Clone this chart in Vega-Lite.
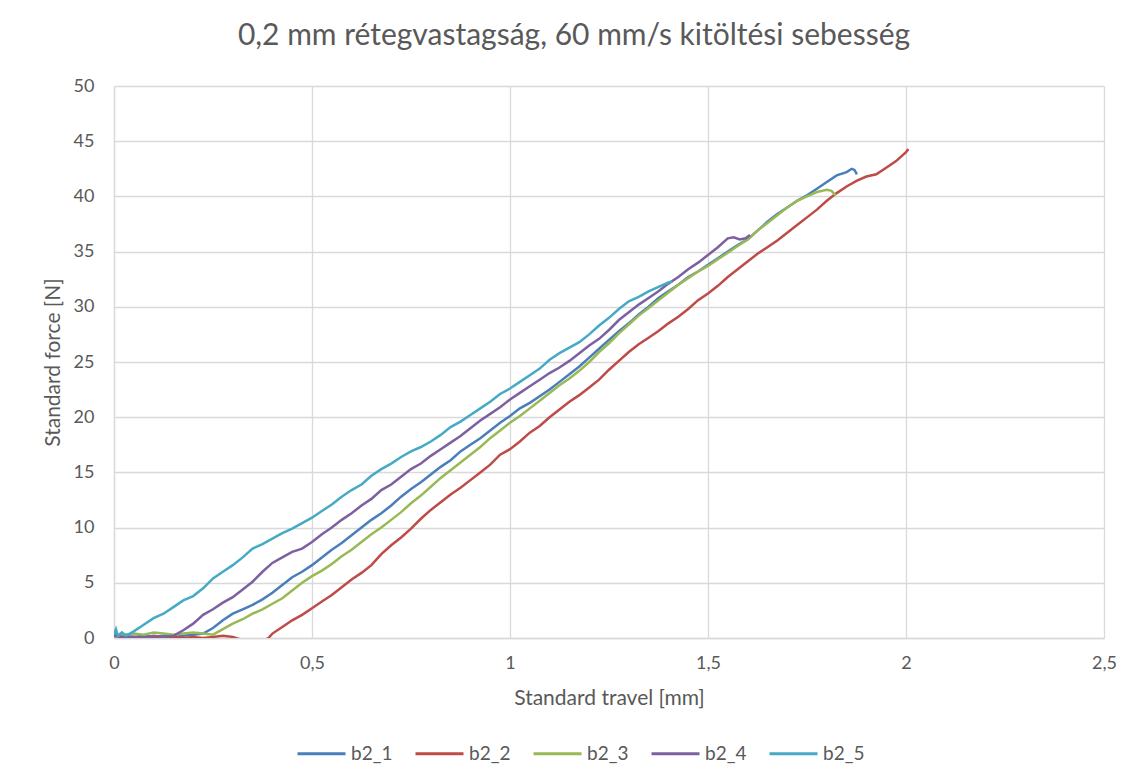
{
 "$schema": "https://vega.github.io/schema/vega-lite/v6.json",
 "width": 990,
 "height": 552,
 "autosize": {"type": "none"},
 "padding": {"left": 114, "top": 86, "right": 33, "bottom": 144},
 "background": "white",
 "title": {"text": "0,2 mm rétegvastagság, 60 mm/s kitöltési sebesség", "font": "Lato", "fontSize": 30, "fontWeight": "normal", "color": "#595959", "anchor": "middle", "dx": -35, "offset": 26},
 "data": {"values": [
  {"s":"b2_1","x":0,"y":0.7},{"s":"b2_1","x":0.008,"y":0.1},{"s":"b2_1","x":0.025,"y":0.2},{"s":"b2_1","x":0.05,"y":0.1},{"s":"b2_1","x":0.075,"y":0.2},{"s":"b2_1","x":0.1,"y":0.1},{"s":"b2_1","x":0.125,"y":0.2},{"s":"b2_1","x":0.15,"y":0.1},{"s":"b2_1","x":0.175,"y":0.2},{"s":"b2_1","x":0.2,"y":0.3},{"s":"b2_1","x":0.225,"y":0.4},{"s":"b2_1","x":0.25,"y":0.9},{"s":"b2_1","x":0.275,"y":1.6},{"s":"b2_1","x":0.3,"y":2.2},{"s":"b2_1","x":0.325,"y":2.6},{"s":"b2_1","x":0.35,"y":3.0},{"s":"b2_1","x":0.375,"y":3.5},{"s":"b2_1","x":0.4,"y":4.1},{"s":"b2_1","x":0.425,"y":4.8},{"s":"b2_1","x":0.45,"y":5.5},{"s":"b2_1","x":0.475,"y":6.0},{"s":"b2_1","x":0.5,"y":6.6},{"s":"b2_1","x":0.525,"y":7.3},{"s":"b2_1","x":0.55,"y":8.0},{"s":"b2_1","x":0.575,"y":8.6},{"s":"b2_1","x":0.6,"y":9.3},{"s":"b2_1","x":0.625,"y":10.0},{"s":"b2_1","x":0.65,"y":10.7},{"s":"b2_1","x":0.675,"y":11.3},{"s":"b2_1","x":0.7,"y":12.0},{"s":"b2_1","x":0.725,"y":12.8},{"s":"b2_1","x":0.75,"y":13.5},{"s":"b2_1","x":0.775,"y":14.1},{"s":"b2_1","x":0.8,"y":14.8},{"s":"b2_1","x":0.825,"y":15.5},{"s":"b2_1","x":0.85,"y":16.1},{"s":"b2_1","x":0.875,"y":16.9},{"s":"b2_1","x":0.9,"y":17.5},{"s":"b2_1","x":0.925,"y":18.1},{"s":"b2_1","x":0.95,"y":18.8},{"s":"b2_1","x":0.975,"y":19.5},{"s":"b2_1","x":1.0,"y":20.1},{"s":"b2_1","x":1.025,"y":20.8},{"s":"b2_1","x":1.05,"y":21.3},{"s":"b2_1","x":1.075,"y":21.9},{"s":"b2_1","x":1.1,"y":22.5},{"s":"b2_1","x":1.125,"y":23.2},{"s":"b2_1","x":1.15,"y":23.9},{"s":"b2_1","x":1.175,"y":24.6},{"s":"b2_1","x":1.2,"y":25.4},{"s":"b2_1","x":1.225,"y":26.2},{"s":"b2_1","x":1.25,"y":27.0},{"s":"b2_1","x":1.275,"y":27.8},{"s":"b2_1","x":1.3,"y":28.5},{"s":"b2_1","x":1.325,"y":29.3},{"s":"b2_1","x":1.35,"y":30.0},{"s":"b2_1","x":1.375,"y":30.8},{"s":"b2_1","x":1.4,"y":31.4},{"s":"b2_1","x":1.425,"y":32.0},{"s":"b2_1","x":1.45,"y":32.7},{"s":"b2_1","x":1.475,"y":33.2},{"s":"b2_1","x":1.5,"y":33.8},{"s":"b2_1","x":1.525,"y":34.4},{"s":"b2_1","x":1.55,"y":35.0},{"s":"b2_1","x":1.575,"y":35.6},{"s":"b2_1","x":1.6,"y":36.1},{"s":"b2_1","x":1.625,"y":36.9},{"s":"b2_1","x":1.65,"y":37.7},{"s":"b2_1","x":1.675,"y":38.4},{"s":"b2_1","x":1.7,"y":39.0},{"s":"b2_1","x":1.725,"y":39.6},{"s":"b2_1","x":1.75,"y":40.1},{"s":"b2_1","x":1.775,"y":40.7},{"s":"b2_1","x":1.8,"y":41.3},{"s":"b2_1","x":1.825,"y":41.9},{"s":"b2_1","x":1.85,"y":42.2},{"s":"b2_1","x":1.863,"y":42.5},{"s":"b2_1","x":1.87,"y":42.4},{"s":"b2_1","x":1.876,"y":42.0},

  {"s":"b2_2","x":0,"y":0.2},{"s":"b2_2","x":0.025,"y":0.0},{"s":"b2_2","x":0.05,"y":0.1},{"s":"b2_2","x":0.075,"y":0.0},{"s":"b2_2","x":0.1,"y":0.1},{"s":"b2_2","x":0.125,"y":0.0},{"s":"b2_2","x":0.15,"y":0.1},{"s":"b2_2","x":0.175,"y":0.0},{"s":"b2_2","x":0.2,"y":0.1},{"s":"b2_2","x":0.225,"y":0.0},{"s":"b2_2","x":0.25,"y":0.1},{"s":"b2_2","x":0.275,"y":0.2},{"s":"b2_2","x":0.3,"y":0.1},{"s":"b2_2","x":0.325,"y":-0.2},{"s":"b2_2","x":0.35,"y":-0.4},{"s":"b2_2","x":0.375,"y":-0.3},{"s":"b2_2","x":0.39,"y":0.0},{"s":"b2_2","x":0.4,"y":0.4},{"s":"b2_2","x":0.425,"y":1.0},{"s":"b2_2","x":0.45,"y":1.6},{"s":"b2_2","x":0.475,"y":2.1},{"s":"b2_2","x":0.5,"y":2.7},{"s":"b2_2","x":0.525,"y":3.3},{"s":"b2_2","x":0.55,"y":3.9},{"s":"b2_2","x":0.575,"y":4.6},{"s":"b2_2","x":0.6,"y":5.3},{"s":"b2_2","x":0.625,"y":5.9},{"s":"b2_2","x":0.65,"y":6.6},{"s":"b2_2","x":0.675,"y":7.6},{"s":"b2_2","x":0.7,"y":8.4},{"s":"b2_2","x":0.725,"y":9.1},{"s":"b2_2","x":0.75,"y":9.9},{"s":"b2_2","x":0.775,"y":10.8},{"s":"b2_2","x":0.8,"y":11.6},{"s":"b2_2","x":0.825,"y":12.3},{"s":"b2_2","x":0.85,"y":13.0},{"s":"b2_2","x":0.875,"y":13.6},{"s":"b2_2","x":0.9,"y":14.3},{"s":"b2_2","x":0.925,"y":15.0},{"s":"b2_2","x":0.95,"y":15.7},{"s":"b2_2","x":0.975,"y":16.6},{"s":"b2_2","x":1.0,"y":17.1},{"s":"b2_2","x":1.025,"y":17.8},{"s":"b2_2","x":1.05,"y":18.6},{"s":"b2_2","x":1.075,"y":19.2},{"s":"b2_2","x":1.1,"y":20.0},{"s":"b2_2","x":1.125,"y":20.7},{"s":"b2_2","x":1.15,"y":21.4},{"s":"b2_2","x":1.175,"y":22.0},{"s":"b2_2","x":1.2,"y":22.7},{"s":"b2_2","x":1.225,"y":23.4},{"s":"b2_2","x":1.25,"y":24.3},{"s":"b2_2","x":1.275,"y":25.1},{"s":"b2_2","x":1.3,"y":25.9},{"s":"b2_2","x":1.325,"y":26.6},{"s":"b2_2","x":1.35,"y":27.2},{"s":"b2_2","x":1.375,"y":27.8},{"s":"b2_2","x":1.4,"y":28.5},{"s":"b2_2","x":1.425,"y":29.1},{"s":"b2_2","x":1.45,"y":29.8},{"s":"b2_2","x":1.475,"y":30.6},{"s":"b2_2","x":1.5,"y":31.2},{"s":"b2_2","x":1.525,"y":31.9},{"s":"b2_2","x":1.55,"y":32.7},{"s":"b2_2","x":1.575,"y":33.4},{"s":"b2_2","x":1.6,"y":34.1},{"s":"b2_2","x":1.625,"y":34.8},{"s":"b2_2","x":1.65,"y":35.4},{"s":"b2_2","x":1.675,"y":36.0},{"s":"b2_2","x":1.7,"y":36.7},{"s":"b2_2","x":1.725,"y":37.4},{"s":"b2_2","x":1.75,"y":38.1},{"s":"b2_2","x":1.775,"y":38.8},{"s":"b2_2","x":1.8,"y":39.6},{"s":"b2_2","x":1.825,"y":40.3},{"s":"b2_2","x":1.85,"y":40.9},{"s":"b2_2","x":1.875,"y":41.4},{"s":"b2_2","x":1.9,"y":41.8},{"s":"b2_2","x":1.925,"y":42.0},{"s":"b2_2","x":1.95,"y":42.6},{"s":"b2_2","x":1.975,"y":43.2},{"s":"b2_2","x":2.0,"y":44.0},{"s":"b2_2","x":2.006,"y":44.3},

  {"s":"b2_3","x":0,"y":0.1},{"s":"b2_3","x":0.025,"y":0.3},{"s":"b2_3","x":0.05,"y":0.4},{"s":"b2_3","x":0.075,"y":0.3},{"s":"b2_3","x":0.1,"y":0.5},{"s":"b2_3","x":0.125,"y":0.4},{"s":"b2_3","x":0.15,"y":0.3},{"s":"b2_3","x":0.175,"y":0.4},{"s":"b2_3","x":0.2,"y":0.5},{"s":"b2_3","x":0.225,"y":0.4},{"s":"b2_3","x":0.25,"y":0.3},{"s":"b2_3","x":0.275,"y":0.8},{"s":"b2_3","x":0.3,"y":1.3},{"s":"b2_3","x":0.325,"y":1.7},{"s":"b2_3","x":0.35,"y":2.2},{"s":"b2_3","x":0.375,"y":2.6},{"s":"b2_3","x":0.4,"y":3.1},{"s":"b2_3","x":0.425,"y":3.6},{"s":"b2_3","x":0.45,"y":4.3},{"s":"b2_3","x":0.475,"y":5.0},{"s":"b2_3","x":0.5,"y":5.6},{"s":"b2_3","x":0.525,"y":6.1},{"s":"b2_3","x":0.55,"y":6.7},{"s":"b2_3","x":0.575,"y":7.4},{"s":"b2_3","x":0.6,"y":8.0},{"s":"b2_3","x":0.625,"y":8.7},{"s":"b2_3","x":0.65,"y":9.4},{"s":"b2_3","x":0.675,"y":10.0},{"s":"b2_3","x":0.7,"y":10.7},{"s":"b2_3","x":0.725,"y":11.4},{"s":"b2_3","x":0.75,"y":12.2},{"s":"b2_3","x":0.775,"y":12.9},{"s":"b2_3","x":0.8,"y":13.7},{"s":"b2_3","x":0.825,"y":14.5},{"s":"b2_3","x":0.85,"y":15.2},{"s":"b2_3","x":0.875,"y":15.9},{"s":"b2_3","x":0.9,"y":16.6},{"s":"b2_3","x":0.925,"y":17.3},{"s":"b2_3","x":0.95,"y":18.1},{"s":"b2_3","x":0.975,"y":18.8},{"s":"b2_3","x":1.0,"y":19.5},{"s":"b2_3","x":1.025,"y":20.1},{"s":"b2_3","x":1.05,"y":20.8},{"s":"b2_3","x":1.075,"y":21.5},{"s":"b2_3","x":1.1,"y":22.2},{"s":"b2_3","x":1.125,"y":22.9},{"s":"b2_3","x":1.15,"y":23.5},{"s":"b2_3","x":1.175,"y":24.2},{"s":"b2_3","x":1.2,"y":25.0},{"s":"b2_3","x":1.225,"y":25.9},{"s":"b2_3","x":1.25,"y":26.7},{"s":"b2_3","x":1.275,"y":27.6},{"s":"b2_3","x":1.3,"y":28.4},{"s":"b2_3","x":1.325,"y":29.2},{"s":"b2_3","x":1.35,"y":29.9},{"s":"b2_3","x":1.375,"y":30.6},{"s":"b2_3","x":1.4,"y":31.3},{"s":"b2_3","x":1.425,"y":32.0},{"s":"b2_3","x":1.45,"y":32.6},{"s":"b2_3","x":1.475,"y":33.2},{"s":"b2_3","x":1.5,"y":33.7},{"s":"b2_3","x":1.525,"y":34.3},{"s":"b2_3","x":1.55,"y":34.9},{"s":"b2_3","x":1.575,"y":35.5},{"s":"b2_3","x":1.6,"y":36.1},{"s":"b2_3","x":1.625,"y":36.9},{"s":"b2_3","x":1.65,"y":37.6},{"s":"b2_3","x":1.675,"y":38.3},{"s":"b2_3","x":1.7,"y":39.0},{"s":"b2_3","x":1.725,"y":39.6},{"s":"b2_3","x":1.75,"y":40.0},{"s":"b2_3","x":1.775,"y":40.4},{"s":"b2_3","x":1.8,"y":40.6},{"s":"b2_3","x":1.812,"y":40.5},{"s":"b2_3","x":1.822,"y":40.1},

  {"s":"b2_4","x":0,"y":0.2},{"s":"b2_4","x":0.025,"y":0.1},{"s":"b2_4","x":0.05,"y":0.1},{"s":"b2_4","x":0.075,"y":0.0},{"s":"b2_4","x":0.1,"y":0.2},{"s":"b2_4","x":0.125,"y":0.1},{"s":"b2_4","x":0.15,"y":0.2},{"s":"b2_4","x":0.175,"y":0.7},{"s":"b2_4","x":0.2,"y":1.3},{"s":"b2_4","x":0.225,"y":2.1},{"s":"b2_4","x":0.25,"y":2.6},{"s":"b2_4","x":0.275,"y":3.2},{"s":"b2_4","x":0.3,"y":3.7},{"s":"b2_4","x":0.325,"y":4.4},{"s":"b2_4","x":0.35,"y":5.1},{"s":"b2_4","x":0.375,"y":6.0},{"s":"b2_4","x":0.4,"y":6.8},{"s":"b2_4","x":0.425,"y":7.3},{"s":"b2_4","x":0.45,"y":7.8},{"s":"b2_4","x":0.475,"y":8.1},{"s":"b2_4","x":0.5,"y":8.7},{"s":"b2_4","x":0.525,"y":9.4},{"s":"b2_4","x":0.55,"y":10.0},{"s":"b2_4","x":0.575,"y":10.7},{"s":"b2_4","x":0.6,"y":11.3},{"s":"b2_4","x":0.625,"y":12.0},{"s":"b2_4","x":0.65,"y":12.6},{"s":"b2_4","x":0.675,"y":13.4},{"s":"b2_4","x":0.7,"y":13.9},{"s":"b2_4","x":0.725,"y":14.6},{"s":"b2_4","x":0.75,"y":15.3},{"s":"b2_4","x":0.775,"y":15.8},{"s":"b2_4","x":0.8,"y":16.5},{"s":"b2_4","x":0.825,"y":17.1},{"s":"b2_4","x":0.85,"y":17.7},{"s":"b2_4","x":0.875,"y":18.3},{"s":"b2_4","x":0.9,"y":19.0},{"s":"b2_4","x":0.925,"y":19.7},{"s":"b2_4","x":0.95,"y":20.3},{"s":"b2_4","x":0.975,"y":20.9},{"s":"b2_4","x":1.0,"y":21.6},{"s":"b2_4","x":1.025,"y":22.2},{"s":"b2_4","x":1.05,"y":22.8},{"s":"b2_4","x":1.075,"y":23.4},{"s":"b2_4","x":1.1,"y":24.0},{"s":"b2_4","x":1.125,"y":24.5},{"s":"b2_4","x":1.15,"y":25.1},{"s":"b2_4","x":1.175,"y":25.8},{"s":"b2_4","x":1.2,"y":26.5},{"s":"b2_4","x":1.225,"y":27.1},{"s":"b2_4","x":1.25,"y":27.9},{"s":"b2_4","x":1.275,"y":28.8},{"s":"b2_4","x":1.3,"y":29.5},{"s":"b2_4","x":1.325,"y":30.2},{"s":"b2_4","x":1.35,"y":30.8},{"s":"b2_4","x":1.375,"y":31.4},{"s":"b2_4","x":1.4,"y":32.1},{"s":"b2_4","x":1.425,"y":32.7},{"s":"b2_4","x":1.45,"y":33.4},{"s":"b2_4","x":1.475,"y":34.0},{"s":"b2_4","x":1.5,"y":34.7},{"s":"b2_4","x":1.525,"y":35.4},{"s":"b2_4","x":1.55,"y":36.2},{"s":"b2_4","x":1.565,"y":36.3},{"s":"b2_4","x":1.58,"y":36.1},{"s":"b2_4","x":1.595,"y":36.2},{"s":"b2_4","x":1.606,"y":36.5},

  {"s":"b2_5","x":0,"y":0.3},{"s":"b2_5","x":0.005,"y":0.8},{"s":"b2_5","x":0.01,"y":0.2},{"s":"b2_5","x":0.02,"y":0.5},{"s":"b2_5","x":0.03,"y":0.2},{"s":"b2_5","x":0.05,"y":0.6},{"s":"b2_5","x":0.075,"y":1.2},{"s":"b2_5","x":0.1,"y":1.8},{"s":"b2_5","x":0.125,"y":2.2},{"s":"b2_5","x":0.15,"y":2.8},{"s":"b2_5","x":0.175,"y":3.4},{"s":"b2_5","x":0.2,"y":3.8},{"s":"b2_5","x":0.225,"y":4.5},{"s":"b2_5","x":0.25,"y":5.4},{"s":"b2_5","x":0.275,"y":6.0},{"s":"b2_5","x":0.3,"y":6.6},{"s":"b2_5","x":0.325,"y":7.3},{"s":"b2_5","x":0.35,"y":8.1},{"s":"b2_5","x":0.375,"y":8.5},{"s":"b2_5","x":0.4,"y":9.0},{"s":"b2_5","x":0.425,"y":9.5},{"s":"b2_5","x":0.45,"y":9.9},{"s":"b2_5","x":0.475,"y":10.4},{"s":"b2_5","x":0.5,"y":10.9},{"s":"b2_5","x":0.525,"y":11.5},{"s":"b2_5","x":0.55,"y":12.1},{"s":"b2_5","x":0.575,"y":12.8},{"s":"b2_5","x":0.6,"y":13.4},{"s":"b2_5","x":0.625,"y":13.9},{"s":"b2_5","x":0.65,"y":14.7},{"s":"b2_5","x":0.675,"y":15.3},{"s":"b2_5","x":0.7,"y":15.8},{"s":"b2_5","x":0.725,"y":16.4},{"s":"b2_5","x":0.75,"y":16.9},{"s":"b2_5","x":0.775,"y":17.3},{"s":"b2_5","x":0.8,"y":17.8},{"s":"b2_5","x":0.825,"y":18.4},{"s":"b2_5","x":0.85,"y":19.1},{"s":"b2_5","x":0.875,"y":19.6},{"s":"b2_5","x":0.9,"y":20.2},{"s":"b2_5","x":0.925,"y":20.8},{"s":"b2_5","x":0.95,"y":21.4},{"s":"b2_5","x":0.975,"y":22.1},{"s":"b2_5","x":1.0,"y":22.6},{"s":"b2_5","x":1.025,"y":23.2},{"s":"b2_5","x":1.05,"y":23.8},{"s":"b2_5","x":1.075,"y":24.4},{"s":"b2_5","x":1.1,"y":25.2},{"s":"b2_5","x":1.125,"y":25.8},{"s":"b2_5","x":1.15,"y":26.3},{"s":"b2_5","x":1.175,"y":26.8},{"s":"b2_5","x":1.2,"y":27.5},{"s":"b2_5","x":1.225,"y":28.3},{"s":"b2_5","x":1.25,"y":29.0},{"s":"b2_5","x":1.275,"y":29.8},{"s":"b2_5","x":1.3,"y":30.5},{"s":"b2_5","x":1.325,"y":30.9},{"s":"b2_5","x":1.35,"y":31.4},{"s":"b2_5","x":1.375,"y":31.8},{"s":"b2_5","x":1.4,"y":32.2},{"s":"b2_5","x":1.41,"y":32.3}
 ]},
 "mark": {"type": "line", "strokeWidth": 2.5, "clip": true},
 "encoding": {
  "x": {"field": "x", "type": "quantitative", "scale": {"domain": [0, 2.5], "nice": false, "zero": false},
        "axis": {"values": [0, 0.5, 1, 1.5, 2, 2.5], "format": "~g", "labelExpr": "replace(datum.label, '.', ',')", "title": "Standard travel [mm]", "labelPadding": 16, "titlePadding": 15}},
  "y": {"field": "y", "type": "quantitative", "scale": {"domain": [0, 50], "nice": false},
        "axis": {"values": [0, 5, 10, 15, 20, 25, 30, 35, 40, 45, 50], "title": "Standard force [N]", "labelPadding": 20, "titlePadding": 10}},
  "color": {"field": "s", "type": "nominal",
            "scale": {"domain": ["b2_1", "b2_2", "b2_3", "b2_4", "b2_5"], "range": ["#4A7EBB", "#BE4B48", "#98B954", "#7D60A0", "#46AAC5"]},
            "legend": {"title": null, "orient": "none", "legendX": 182, "legendY": 642, "direction": "horizontal", "symbolType": "stroke", "symbolSize": 2304, "symbolStrokeWidth": 3, "labelFont": "Lato", "labelFontSize": 19, "labelColor": "#595959", "labelOffset": 4, "columnPadding": 16, "padding": 0}}
 },
 "config": {
  "font": "Lato",
  "view": {"stroke": null},
  "axis": {"gridColor": "#d9d9d9", "gridWidth": 1.3, "domainColor": "#d9d9d9", "domainWidth": 1.3, "ticks": false, "labelFlush": false, "labelFont": "Lato", "labelFontSize": 18, "labelColor": "#595959", "titleFont": "Lato", "titleFontSize": 21, "titleColor": "#595959", "titleFontWeight": "normal"}
 }
}
